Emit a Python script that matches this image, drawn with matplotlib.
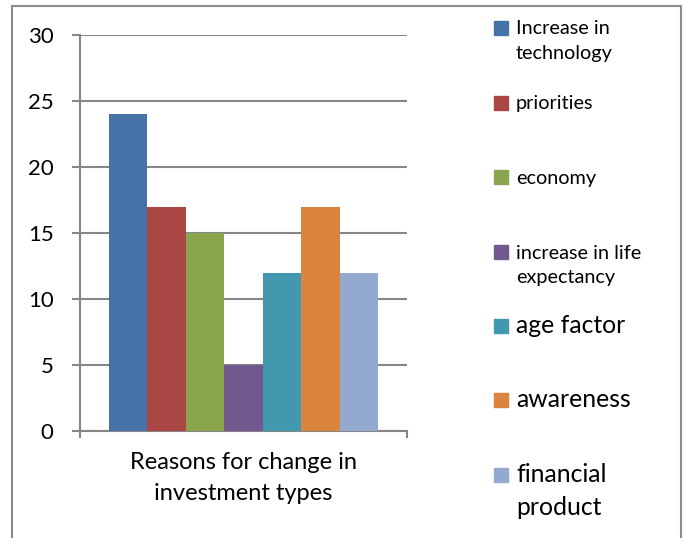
import matplotlib.pyplot as plt
from matplotlib.patches import Rectangle
from matplotlib.lines import Line2D

plt.rcParams['font.family'] = ['Lato', 'DejaVu Sans']

category = "Reasons for change in\ninvestment types"
series = ["Increase in\ntechnology", "priorities", "economy",
          "increase in life\nexpectancy", "age factor", "awareness",
          "financial\nproduct"]
values = [24, 17, 15, 5, 12, 17, 12]
yticks = [0, 5, 10, 15, 20, 25, 30]

colors = ['#4572a7', '#aa4643', '#89a54e', '#71588f', '#4198af', '#db843d', '#93a9cf']
grid_c = '#868686'

fig = plt.figure(figsize=(6.83, 5.38), dpi=100)
W, H = 683, 538

# outer chart frame (bottom edge is cut off in the reference)
for xs, ys in [([12, 12], [6, 538]), ([12, 681], [6, 6]), ([681, 681], [6, 538])]:
    fig.add_artist(Line2D([x / W for x in xs], [1 - y / H for y in ys],
                          color='#8c8c8c', lw=1.5, transform=fig.transFigure))

ax = fig.add_axes([80 / W, 1 - 431 / H, (407 - 80) / W, (431 - 35) / H])
xs = list(range(len(values)))
ax.bar(xs, values, width=1.0, color=colors, zorder=3)

ax.set_ylim(0, 30)
ax.set_xlim(-1.25, 7.25)
ax.set_yticks(yticks)
ax.yaxis.grid(True, color=grid_c, lw=1.5, zorder=0)
ax.tick_params(axis='y', length=6, width=1.5, color=grid_c, pad=13, labelsize=16,
               labelcolor='black')
ax.set_xticks([3])
ax.set_xticklabels([category], fontsize=17, linespacing=1.6)
ax.set_xticks([-1.25, 7.25], minor=True)
ax.tick_params(axis='x', which='major', length=0, pad=15)
ax.tick_params(axis='x', which='minor', length=5, width=1.5, color=grid_c)
for s in ['top', 'right']:
    ax.spines[s].set_visible(False)
for s in ['left', 'bottom']:
    ax.spines[s].set_color(grid_c)
    ax.spines[s].set_linewidth(1.5)
ax.spines['left'].set_bounds(0, 30)
ax.set_axisbelow(True)

# legend drawn by hand: uneven spacing and two font sizes as in the reference
leg_y = [27.5, 102.5, 177, 251.5, 326, 400, 475]
leg_fs = [14.3, 14.3, 14.3, 14.3, 17.8, 17.8, 17.8]
leg_step = [25, 25, 25, 25, 33, 33, 33]
for lab, c, y, fs, step in zip(series, colors, leg_y, leg_fs, leg_step):
    fig.add_artist(Rectangle((494 / W, 1 - (y + 7) / H), 14 / W, 14 / H,
                             color=c, transform=fig.transFigure))
    for i, line in enumerate(lab.split('\n')):
        fig.text(516 / W, 1 - (y + 7 + i * step) / H, line, fontsize=fs,
                 va='baseline', ha='left')

fig.savefig('out.png', dpi=100)
